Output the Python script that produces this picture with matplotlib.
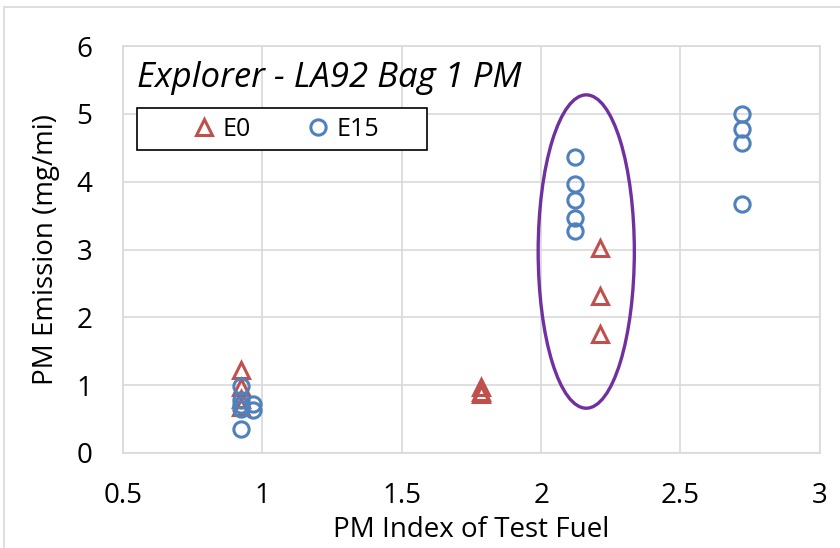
import matplotlib.pyplot as plt
from matplotlib.patches import Ellipse, Rectangle

# E0 (triangles)
e0_x = [0.925, 0.925, 0.925, 0.925, 1.785, 1.785, 1.785, 2.21, 2.21, 2.21]
e0_y = [1.22, 0.98, 0.80, 0.68, 0.98, 0.90, 0.87, 3.02, 2.32, 1.75]

# E15 (circles)
e15_x = [0.922, 0.922, 0.922, 0.922, 0.922, 0.967, 0.967,
         2.122, 2.122, 2.122, 2.122, 2.122,
         2.72, 2.72, 2.72, 2.72]
e15_y = [0.99, 0.78, 0.71, 0.65, 0.36, 0.72, 0.63,
         4.36, 3.96, 3.73, 3.47, 3.27,
         5.00, 4.77, 4.57, 3.67]

title = "Explorer - LA92 Bag 1 PM"
xticks = [0.5, 1, 1.5, 2, 2.5, 3]
yticks = [0, 1, 2, 3, 4, 5, 6]

plt.rcParams['font.family'] = ['Open Sans', 'DejaVu Sans']

fig = plt.figure(figsize=(8.4, 5.48), dpi=100)
# outer chart border
fig.patches.append(Rectangle((4 / 840, -0.1), 1.2, 1 - 7 / 548 + 0.1,
                             transform=fig.transFigure, fill=False,
                             edgecolor='#d9d9d9', linewidth=1.2))
ax = fig.add_axes([0.1464, 0.1734, 0.976 - 0.1464, 0.916 - 0.1734])

red = '#C0504D'
blue = '#4F81BD'
ax.plot(e0_x, e0_y, linestyle='none', marker='^', markersize=11,
        markerfacecolor='none', markeredgecolor=red, markeredgewidth=2.2,
        label='E0', zorder=3)
ax.plot(e15_x, e15_y, linestyle='none', marker='o', markersize=11,
        markerfacecolor='none', markeredgecolor=blue, markeredgewidth=2.2,
        label='E15', zorder=4)

ax.add_patch(Ellipse((2.162, 2.97), 0.345, 4.62, fill=False,
                     edgecolor='#7030A0', linewidth=2.4, zorder=5))

ax.set_xlim(0.5, 3)
ax.set_ylim(0, 6)
ax.set_xticks(xticks)
ax.set_xticklabels(['0.5', '1', '1.5', '2', '2.5', '3'])
ax.set_yticks(yticks)
ax.grid(True, color='#d9d9d9', linewidth=1.2)
ax.set_axisbelow(True)
for s in ax.spines.values():
    s.set_color('#d9d9d9')
    s.set_linewidth(1.2)
ax.tick_params(length=0, labelsize=20, colors='black')
ax.tick_params(axis='x', pad=21)
ax.tick_params(axis='y', pad=22)
ax.set_xlabel('PM Index of Test Fuel', fontsize=20, labelpad=4)
ax.set_ylabel('PM Emission (mg/mi)', fontsize=20, labelpad=12)

ax.text(0.02, 0.9226, title, transform=ax.transAxes, fontsize=25,
        style='italic', va='center', ha='left')

# legend box (drawn separately, entries centred inside it)
x0 = (137 - 123) / 697
x1 = (427 - 123) / 697
y0 = (453 - 150) / 407
y1 = (453 - 108) / 407
ax.add_patch(Rectangle((x0, y0), x1 - x0, y1 - y0, transform=ax.transAxes,
                       facecolor='white', edgecolor='black', linewidth=1.2,
                       zorder=6))
leg = ax.legend(loc='center', bbox_to_anchor=(0.233, (y0 + y1) / 2), ncol=2,
                fontsize=18, frameon=False, handlelength=1.0,
                handletextpad=0.25, columnspacing=2.2, borderpad=0)
leg.set_zorder(7)

fig.savefig('out.png', dpi=100)
